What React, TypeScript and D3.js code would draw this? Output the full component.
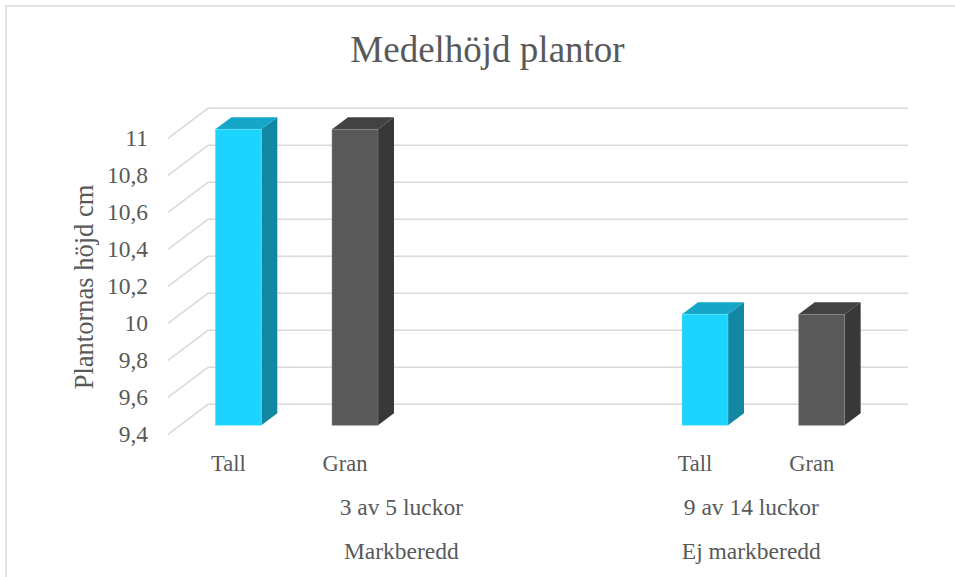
import React from "react";
import * as d3 from "d3";

const title = "Medelhöjd plantor";
const yAxisTitle = "Plantornas höjd cm";
const slotLabels = ["Tall", "Gran", "", "", "Tall", "Gran"];
const slotSpecies = ["tall", "gran", null, null, "tall", "gran"];
const slotValues: (number | null)[] = [11, 11, null, null, 10, 10];
const groupLevel2 = ["3 av 5 luckor", "9 av 14 luckor"];
const groupLevel3 = ["Markberedd", "Ej markberedd"];
const groupSpans = [4, 2];
const yTicks = [9.4, 9.6, 9.8, 10, 10.2, 10.4, 10.6, 10.8, 11];
const yDomain = [9.4, 11];

const colors: Record<string, { front: string; side: string; top: string; edge: string }> = {
  tall: { front: "#1DD4FF", side: "#1187A2", top: "#15A6C8", edge: "#63E3FF" },
  gran: { front: "#595959", side: "#383838", top: "#424242", edge: "#8A8A8A" },
};

const W = 955;
const H = 577;
const backLeft = 208;
const backRight = 908;
const backTop = 108.3;
const backBottom = 404.3;
const depthX = -40;
const depthY = 30;
const barFrontD = 0.7;
const barBackD = 0.3;
const font = '"Liberation Serif", "Times New Roman", serif';
const textColor = "#595959";
const gridColor = "#D9D9D9";

export default function App() {
  const slots = slotLabels.map((_, i) => String(i));
  const x = d3
    .scaleBand<string>()
    .domain(slots)
    .range([backLeft, backRight])
    .paddingInner(0.606)
    .paddingOuter(0.303);
  const y = d3.scaleLinear().domain(yDomain).range([backBottom, backTop]);

  const fmt = (v: number) => String(+v.toFixed(1)).replace(".", ",");

  const bw = x.bandwidth();
  const sdx = depthX * (barBackD - barFrontD);
  const sdy = depthY * (barBackD - barFrontD);

  const bars = slotValues.map((v, i) => {
    if (v == null) return null;
    const sp = slotSpecies[i] as string;
    const c = colors[sp];
    const x0 = (x(String(i)) as number) + depthX * barFrontD;
    const x1 = x0 + bw;
    const yT = y(v) + depthY * barFrontD;
    const yB = y(yDomain[0]) + depthY * barFrontD;
    const pts = (arr: number[][]) => arr.map((p) => p.join(",")).join(" ");
    return (
      <g key={i}>
        <polygon
          points={pts([[x1, yT], [x1 + sdx, yT + sdy], [x1 + sdx, yB + sdy], [x1, yB]])}
          fill={c.side}
        />
        <polygon
          points={pts([[x0, yT], [x0 + sdx, yT + sdy], [x1 + sdx, yT + sdy], [x1, yT]])}
          fill={c.top}
        />
        <rect x={x0} y={yT} width={bw} height={yB - yT} fill={c.front} stroke={c.edge} strokeWidth={0.8} strokeOpacity={0.6} />
      </g>
    );
  });

  let start = 0;
  const groupCenters = groupSpans.map((n) => {
    const a = x.step() * start;
    start += n;
    const b = x.step() * start;
    return backLeft + (a + b) / 2 + depthX;
  });

  const ts = { fontFamily: font };

  return (
    <div style={{ position: "absolute", left: 0, top: 0 }}>
      <svg width={W} height={H} style={{ display: "block", background: "#fff" }}>
        <rect x={6} y={6} width={W + 20} height={H + 20} fill="#fff" stroke={gridColor} strokeWidth={1.5} />
        {yTicks.map((t) => (
          <polyline
            key={t}
            points={`${backLeft + depthX},${y(t) + depthY} ${backLeft},${y(t)} ${backRight},${y(t)}`}
            fill="none"
            stroke={gridColor}
            strokeWidth={1.5}
          />
        ))}
        {bars}
        <text x={487.5} y={49} textAnchor="middle" dominantBaseline="central" style={ts} fontSize={37} fill={textColor}>
          {title}
        </text>
        {yTicks.map((t) => (
          <text
            key={t}
            x={backLeft + depthX - 20}
            y={y(t) + depthY}
            textAnchor="end"
            dominantBaseline="central"
            style={ts}
            fontSize={23.5}
            fill={textColor}
          >
            {fmt(t)}
          </text>
        ))}
        <text
          transform={`translate(84,287) rotate(-90)`}
          textAnchor="middle"
          dominantBaseline="central"
          style={ts}
          fontSize={26.5}
          fill={textColor}
        >
          {yAxisTitle}
        </text>
        {slotLabels.map((l, i) =>
          l ? (
            <text
              key={i}
              x={(x(String(i)) as number) + bw / 2 + depthX * 0.95}
              y={463}
              textAnchor="middle"
              dominantBaseline="central"
              style={ts}
              fontSize={22.5}
              fill={textColor}
            >
              {l}
            </text>
          ) : null
        )}
        {groupLevel2.map((g, i) => (
          <text key={g} x={groupCenters[i]} y={507} textAnchor="middle" dominantBaseline="central" style={ts} fontSize={23.5} fill={textColor}>
            {g}
          </text>
        ))}
        {groupLevel3.map((g, i) => (
          <text key={g} x={groupCenters[i]} y={551} textAnchor="middle" dominantBaseline="central" style={ts} fontSize={23.5} fill={textColor}>
            {g}
          </text>
        ))}
      </svg>
    </div>
  );
}
